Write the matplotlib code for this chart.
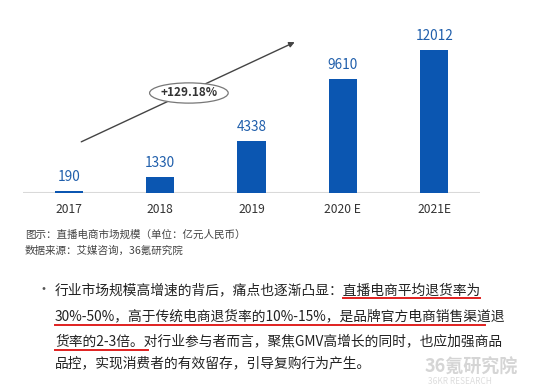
import matplotlib.pyplot as plt
from matplotlib.patches import Ellipse
from matplotlib.lines import Line2D

plt.rcParams['font.family'] = ['Noto Sans CJK SC', 'DejaVu Sans']

years = ['2017', '2018', '2019', '2020 E', '2021E']
market = [190, 1330, 4338, 9610, 12012]
growth_label = '+129.18%'
caption = '图示：直播电商市场规模（单位：亿元人民币）'
source = '数据来源：艾媒咨询，36氪研究院'
para = ['行业市场规模高增速的背后，痛点也逐渐凸显：直播电商平均退货率为',
        '30%-50%，高于传统电商退货率的10%-15%，是品牌官方电商销售渠道退',
        '货率的2-3倍。对行业参与者而言，聚焦GMV高增长的同时，也应加强商品',
        '品控，实现消费者的有效留存，引导复购行为产生。']

W, H = 550, 388
fig = plt.figure(figsize=(W / 100, H / 100), dpi=100)

# axes covers the chart area, baseline at y=193px
ax = fig.add_axes([23 / W, 1 - 193 / H, 457 / W, 193 / H])
ax.set_xlim(-0.5, 4.5)
ymax = 12012 * 193 / 143
ax.set_ylim(0, ymax)
ax.axis('off')

bar_color = '#0b56b1'
x = list(range(len(years)))
ax.bar(x, market, width=0.31, color=bar_color, zorder=2)
ax.axhline(0, color='#d9d9d9', lw=1.5, zorder=1)

for xi, v in zip(x, market):
    ax.annotate(str(v), (xi, v), xytext=(0, 5), textcoords='offset points',
                ha='center', va='bottom', fontsize=9.8, color='#1f5eab')

for xi, lab in zip(x, years):
    ax.text(xi, -ymax * 0.085, lab, ha='center', va='center', fontsize=8.7,
            color='#333333', clip_on=False)

# growth arrow with ellipse label
ax.annotate('', xy=(2.5, 12770), xytext=(0.11, 4200),
            arrowprops=dict(arrowstyle='-|>', color='#444444', lw=1,
                            mutation_scale=8), zorder=3)
ell = Ellipse((1.315, 8400), 0.86, 1700, facecolor='white',
              edgecolor='#777777', lw=0.9, zorder=4)
ax.add_patch(ell)
ax.text(1.315, 8400, growth_label, ha='center', va='center', fontsize=8.5,
        fontweight='bold', color='#333333', zorder=5)

# captions
fig.text(25 / W, 1 - 235 / H, caption, fontsize=7.6, color='#444444',
         va='center')
fig.text(25 / W, 1 - 251 / H, source, fontsize=7.6, color='#444444',
         va='center')

# bullet paragraph
line_y = [290, 316, 341, 363]
fig.text(36 / W, 1 - 290 / H, '•', fontsize=10, color='#555555', va='center')
for y, t in zip(line_y, para):
    fig.text(55 / W, 1 - y / H, t, fontsize=9.9, color='#222222', va='center')

# red underlines
red = '#e0201f'
for x0, x1, y in [(343, 480, 298), (55, 485, 325), (55, 148, 350)]:
    fig.add_artist(Line2D([x0 / W, x1 / W], [1 - y / H, 1 - y / H],
                          color=red, lw=1.4))

# watermark
fig.text(425 / W, 1 - 367 / H, '36氪研究院', fontsize=13, fontweight='bold',
         color='#d5d5d5', va='center')
fig.text(428 / W, 1 - 382 / H, '36KR RESEARCH', fontsize=6, color='#dddddd',
         va='center')

fig.savefig('out.png', dpi=100)
